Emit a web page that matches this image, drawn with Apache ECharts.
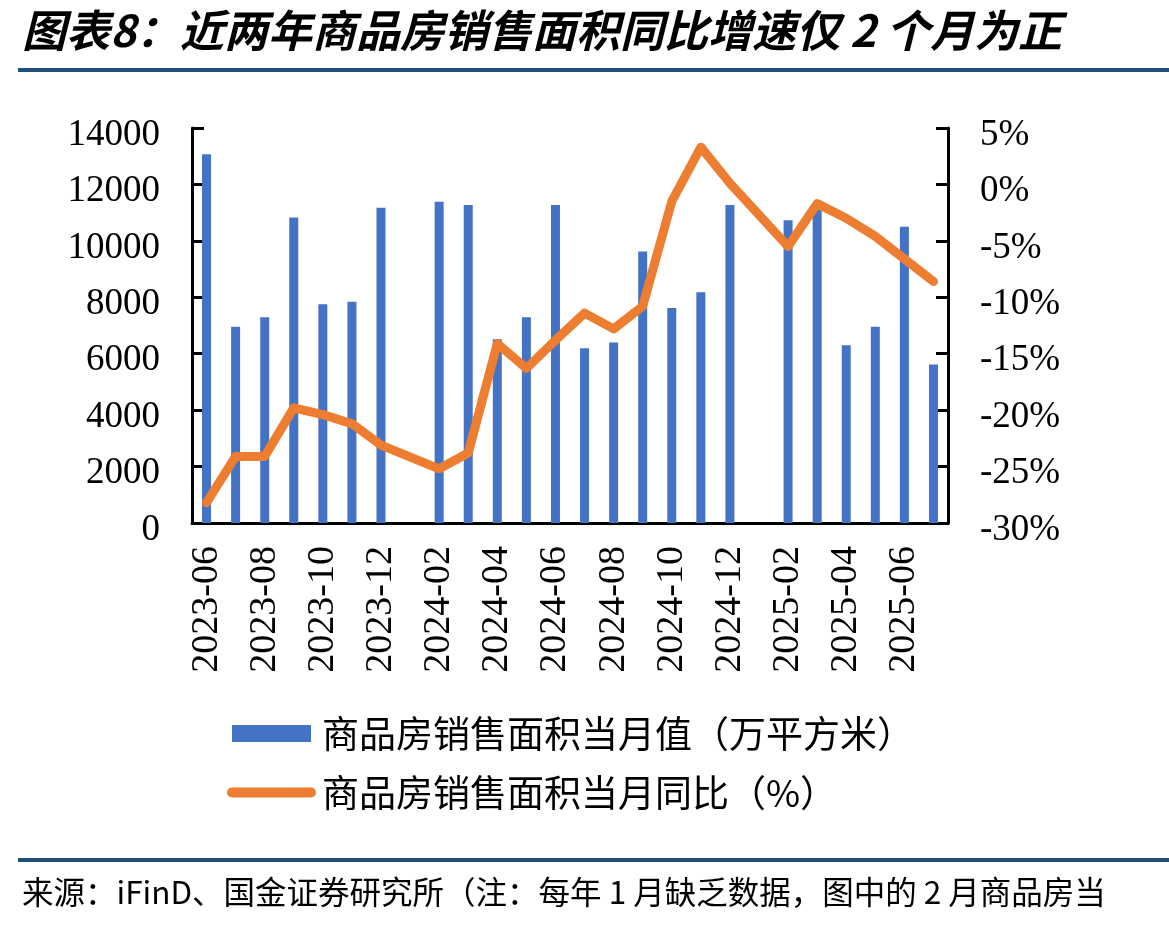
<!DOCTYPE html>
<html>
<head>
<meta charset="utf-8">
<script src="https://cdn.jsdelivr.net/npm/echarts@6/dist/echarts.min.js"></script>
<style>
html, body { margin: 0; padding: 0; background: #fff; }
#idChart { width: 1169px; height: 928px; }
</style>
</head>
<body>
<div id="idChart"></div>
<script>
var myChart;

// 月份（每年1月缺数据，留空位）
var months = ['2023-06','2023-07','2023-08','2023-09','2023-10','2023-11','2023-12',
  '2024-01','2024-02','2024-03','2024-04','2024-05','2024-06','2024-07','2024-08',
  '2024-09','2024-10','2024-11','2024-12','2025-01','2025-02','2025-03','2025-04',
  '2025-05','2025-06','2025-07'];
// 商品房销售面积当月值（万平方米）
var areaMonthly = [13070, 6960, 7290, 10830, 7750, 7840, 11170,
  null, 11390, 11270, 6510, 7290, 11270, 6190, 6400,
  9620, 7620, 8180, 11270, null, 10730, 11090, 6300,
  6960, 10500, 5620];
// 商品房销售面积当月同比（%）
var areaYoy = [-28.2, -24.1, -24.1, -19.8, -20.4, -21.2, -23.1,
  null, -25.2, -23.8, -14.1, -16.3, -13.8, -11.4, -12.8,
  -10.8, -1.5, 3.3, 0.1, null, -5.5, -1.7, -3.0,
  -4.6, -6.6, -8.6];

var nameBar = '商品房销售面积当月值（万平方米）';
var nameLine = '商品房销售面积当月同比（%）';

var serif = '"Liberation Serif", "Times New Roman", serif';
var cjk = '"Noto Sans CJK SC", sans-serif';

var Options = {
  animation: false,
  backgroundColor: '#fff',
  grid: {
    left: 192,
    right: 221,
    top: 128,
    bottom: 405,
    containLabel: false
  },
  legend: {
    orient: 'vertical',
    left: 222,
    top: 710,
    itemWidth: 79,
    itemHeight: 17,
    itemGap: 22,
    textStyle: {
      fontFamily: cjk,
      fontSize: 37,
      color: '#000',
      padding: [0, 0, 0, 6]
    },
    data: [
      { name: nameBar, icon: 'rect' },
      { name: nameLine, itemStyle: { opacity: 0 }, lineStyle: { width: 10, cap: 'round' } }
    ]
  },
  xAxis: {
    type: 'category',
    data: months,
    boundaryGap: true,
    axisLine: { lineStyle: { color: '#000', width: 3 } },
    axisTick: {
      inside: true,
      length: 10,
      interval: 1,
      lineStyle: { color: '#000', width: 3 }
    },
    axisLabel: {
      interval: 1,
      rotate: 90,
      margin: 23,
      fontFamily: serif,
      fontSize: 38,
      color: '#000'
    },
    splitLine: { show: false }
  },
  yAxis: [
    {
      type: 'value',
      min: 0,
      max: 14000,
      interval: 2000,
      axisLine: { show: true, lineStyle: { color: '#000', width: 3 } },
      axisTick: { show: true, inside: true, length: 12, lineStyle: { color: '#000', width: 3 } },
      axisLabel: {
        margin: 32,
        fontFamily: serif,
        fontSize: 37,
        color: '#000',
        verticalAlign: 'top',
        lineHeight: 14,
        formatter: function (v) { return String(v); }
      },
      splitLine: { show: false }
    },
    {
      type: 'value',
      min: -30,
      max: 5,
      interval: 5,
      position: 'right',
      axisLine: { show: true, lineStyle: { color: '#000', width: 3 } },
      axisTick: { show: true, inside: true, length: 12, lineStyle: { color: '#000', width: 3 } },
      axisLabel: {
        margin: 32,
        fontFamily: serif,
        fontSize: 37,
        color: '#000',
        verticalAlign: 'top',
        lineHeight: 14,
        formatter: function (v) { return v + '%'; }
      },
      splitLine: { show: false }
    }
  ],
  series: [
    {
      name: nameBar,
      type: 'bar',
      yAxisIndex: 0,
      barWidth: 9,
      itemStyle: { color: '#4472C4' },
      data: areaMonthly
    },
    {
      name: nameLine,
      type: 'line',
      yAxisIndex: 1,
      symbol: 'none',
      connectNulls: true,
      lineStyle: { color: '#ED7D31', width: 9, join: 'round', cap: 'round' },
      itemStyle: { color: '#ED7D31' },
      data: areaYoy
    }
  ],
  graphic: [
    {
      type: 'text',
      left: 22,
      top: 8,
      style: {
        text: '图表8：近两年商品房销售面积同比增速仅 2 个月为正',
        fontFamily: cjk,
        fontSize: 44,
        fontWeight: 'bold',
        fontStyle: 'italic',
        fill: '#000'
      }
    },
    {
      type: 'rect',
      shape: { x: 18, y: 68, width: 1151, height: 4 },
      style: { fill: '#1F4E79' }
    },
    {
      type: 'rect',
      shape: { x: 18, y: 858, width: 1151, height: 4 },
      style: { fill: '#1F4E79' }
    },
    {
      type: 'text',
      left: 22,
      top: 876,
      style: {
        text: '来源：iFinD、国金证券研究所（注：每年 1 月缺乏数据，图中的 2 月商品房当',
        fontFamily: cjk,
        fontSize: 31.5,
        fill: '#000'
      }
    }
  ]
};

myChart = echarts.init(document.getElementById('idChart'));
myChart.setOption(Options);
</script>
</body>
</html>
